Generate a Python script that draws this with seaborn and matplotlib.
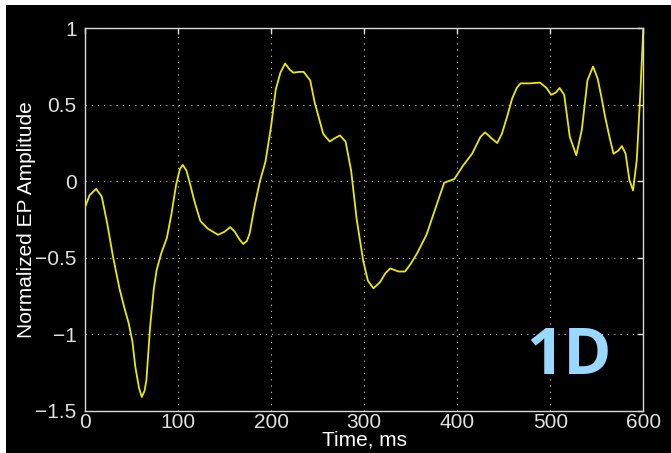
import matplotlib
matplotlib.use("Agg")
import matplotlib.pyplot as plt
import matplotlib.patches as mpatches
import numpy as np
import pandas as pd
import seaborn as sns

# Evoked-potential trace, time in ms and normalized amplitude
time_ms = [0, 5, 12, 18, 24, 30, 37, 42, 47, 51, 54, 58, 61, 64, 66, 70, 74, 77,
           82, 88, 93, 98, 102, 105, 109, 113, 118, 124, 132, 143, 150, 156, 161,
           166, 170, 174, 177, 182, 188, 194, 200, 205, 210, 215, 220, 224, 230,
           235, 242, 247, 252, 256, 263, 268, 274, 280, 286, 292, 299, 304, 310,
           317, 323, 328, 337, 344, 350, 357, 367, 377, 386, 397, 406, 416, 425,
           430, 437, 443, 448, 454, 459, 464, 468, 478, 489, 496, 501, 506, 510,
           515, 521, 528, 534, 540, 546, 551, 555, 559, 564, 568, 573, 577, 581,
           585, 589, 593, 597, 600]
amplitude = [-0.17, -0.09, -0.05, -0.10, -0.28, -0.49, -0.70, -0.82, -0.93, -1.05,
             -1.21, -1.35, -1.41, -1.37, -1.30, -0.95, -0.70, -0.58, -0.47, -0.37,
             -0.21, -0.02, 0.08, 0.107, 0.07, -0.02, -0.14, -0.26, -0.31, -0.35,
             -0.33, -0.30, -0.33, -0.38, -0.41, -0.39, -0.34, -0.17, 0.00, 0.13,
             0.36, 0.60, 0.71, 0.77, 0.73, 0.71, 0.715, 0.715, 0.66, 0.51, 0.40,
             0.31, 0.26, 0.28, 0.30, 0.26, 0.07, -0.25, -0.52, -0.65, -0.70, -0.66,
             -0.60, -0.57, -0.59, -0.59, -0.54, -0.47, -0.35, -0.17, -0.01, 0.015,
             0.10, 0.18, 0.29, 0.32, 0.28, 0.25, 0.31, 0.43, 0.54, 0.61, 0.64, 0.64,
             0.645, 0.61, 0.565, 0.58, 0.61, 0.565, 0.29, 0.17, 0.34, 0.66, 0.75,
             0.67, 0.55, 0.42, 0.28, 0.18, 0.20, 0.23, 0.18, 0.01, -0.06, 0.14,
             0.60, 1.00]

x_ticks = [0, 100, 200, 300, 400, 500, 600]
y_ticks = [-1.5, -1, -0.5, 0, 0.5, 1]
y_tick_labels = ["\u22121.5", "\u22121", "\u22120.5", "0", "0.5", "1"]
panel_label = "1D"

df = pd.DataFrame({"Time, ms": time_ms, "Amplitude": amplitude})

sns.set_style("dark", rc={
    "axes.facecolor": "black",
    "axes.edgecolor": "#d8d8d8",
    "text.color": "white",
    "axes.labelcolor": "white",
    "xtick.color": "#e0e0e0",
    "ytick.color": "#e0e0e0",
})
plt.rcParams["font.family"] = ["Liberation Sans", "DejaVu Sans"]

W, H = 671, 453
fig = plt.figure(figsize=(W / 100, H / 100), dpi=100, facecolor="white")
# black backdrop with a thin white margin on the top and left
fig.patches.append(mpatches.Rectangle((6 / W, 0), (W - 6) / W, (H - 5) / H,
                                      transform=fig.transFigure,
                                      facecolor="black", edgecolor="none",
                                      zorder=-10))

left, right = 85 / W, 643.3 / W
bottom, top = (H - 410.7) / H, (H - 28.3) / H
ax = fig.add_axes([left, bottom, right - left, top - bottom])
ax.set_facecolor("black")

sns.lineplot(data=df, x="Time, ms", y="Amplitude", ax=ax, color="#eaea00",
             linewidth=1.3, zorder=3)

ax.set_xlim(0, 600)
ax.set_ylim(-1.5, 1)
ax.set_xticks(x_ticks)
ax.set_xticklabels([str(t) for t in x_ticks])
ax.set_yticks(y_ticks)
ax.set_yticklabels(y_tick_labels)

ax.grid(True, color="#c8c8c8", linewidth=0.8, linestyle=(0, (1, 4.6)))
for s in ax.spines.values():
    s.set_visible(True)
    s.set_color("#d8d8d8")
    s.set_linewidth(1.0)
ax.tick_params(direction="in", length=4, width=1.0, top=True, right=True,
               labelsize=15, colors="#e0e0e0")
ax.tick_params(axis="x", pad=2)
ax.tick_params(axis="y", pad=6)

ax.set_xlabel("Time, ms", fontsize=15, color="white")
ax.xaxis.set_label_coords(0.5, -0.052)
ax.set_ylabel("Normalized EP Amplitude", fontsize=15, color="white")
ax.yaxis.set_label_coords(-0.088, 0.5)

ax.text(0.867, 0.138, panel_label, transform=ax.transAxes, ha="center",
        va="center", fontsize=47, fontweight="bold", color="#99d9ff",
        family=["Open Sans", "DejaVu Sans"], zorder=4)

fig.savefig("out.png", dpi=100, facecolor=fig.get_facecolor())
